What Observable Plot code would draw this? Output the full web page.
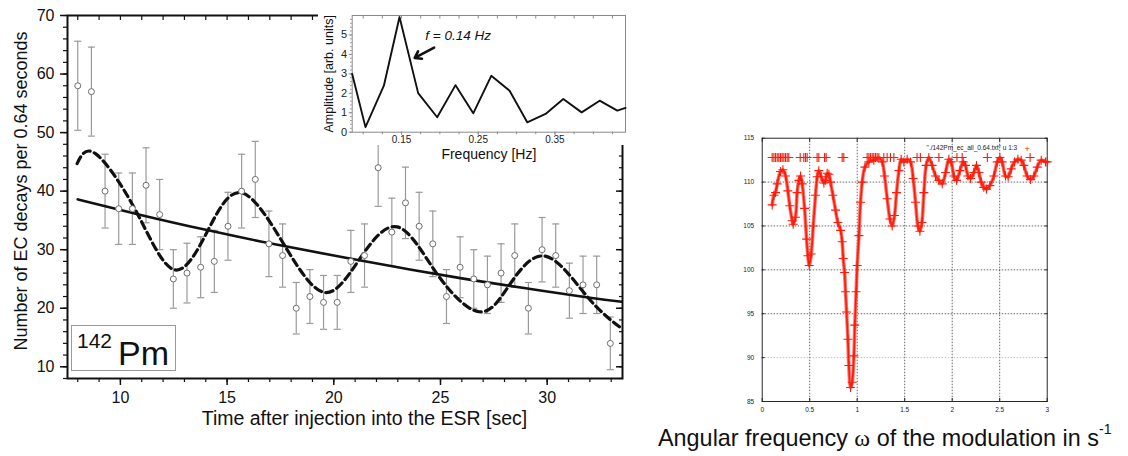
<!DOCTYPE html>
<html>
<head>
<meta charset="utf-8">
<script src="https://cdn.jsdelivr.net/npm/d3@7"></script>
<script src="https://cdn.jsdelivr.net/npm/@observablehq/plot@0.6"></script>
<style>
  html, body { margin: 0; padding: 0; background: #fff; }
  #wrap { position: relative; width: 1128px; height: 456px; overflow: hidden; background: #fff; font-family: "Liberation Sans", Arial, sans-serif; }
  #wrap > svg, #wrap > div { position: absolute; }
  .iso { position: absolute; left: 71px; top: 325px; width: 105px; height: 46px; border: 1px solid #9a9a9a; box-sizing: border-box; }
  .iso span { position: absolute; line-height: 1; color: #111; white-space: nowrap; }
  .caption { left: 658px; top: 425px; font-size: 23.4px; line-height: 1; color: #111; white-space: nowrap; }
  .caption .w { font-family: "Liberation Serif", "DejaVu Serif", serif; font-size: 24px; }
  .caption sup { font-size: 14px; position: relative; top: -3px; }
</style>
</head>
<body>
<div id="wrap"></div>
<script>
// ---------- Main panel: EC decays of 142Pm ----------
const times = [8.00, 8.64, 9.28, 9.92, 10.56, 11.20, 11.84, 12.48, 13.12, 13.76,
  14.40, 15.04, 15.68, 16.32, 16.96, 17.60, 18.24, 18.88, 19.52, 20.16,
  20.80, 21.44, 22.08, 22.72, 23.36, 24.00, 24.64, 25.28, 25.92, 26.56,
  27.20, 27.84, 28.48, 29.12, 29.76, 30.40, 31.04, 31.68, 32.32, 32.96];
const counts = [58, 57, 40, 37, 37, 41, 36, 25, 26, 27,
  28, 34, 40, 42, 31, 29, 20, 22, 21, 21,
  28, 29, 44, 33, 38, 34, 31, 22, 27, 25,
  24, 26, 29, 20, 30, 29, 23, 24, 24, 14];
const errors = [7.6, 7.6, 6.3, 6.1, 6.1, 6.4, 6.0, 5.0, 5.1, 5.2,
  5.3, 5.8, 6.3, 6.5, 5.6, 5.4, 4.4, 4.6, 4.6, 4.6,
  5.3, 5.4, 6.6, 5.8, 6.1, 5.8, 5.6, 4.6, 5.2, 5.0,
  4.9, 5.0, 5.4, 4.4, 5.5, 5.4, 4.7, 4.9, 4.9, 4.5];
// exponential-decay fit (solid)
const fitT = [8, 11, 14, 17, 20, 23, 26, 29, 32, 33.5];
const fitV = [38.6, 35.9, 33.4, 31.1, 29.0, 27.0, 25.1, 23.4, 21.8, 21.1];
// modulated fit (dashed): extrema and mean crossings
const modT = [7.97, 8.83, 10.7, 12.5, 14.1, 15.7, 17.73, 19.56, 21.17, 22.97, 24.85, 26.8, 28.2, 29.9, 31.87, 33.5];
const modV = [44.7, 46.4, 36.8, 26.6, 33.3, 39.7, 30.5, 22.7, 28.2, 33.9, 25.8, 19.4, 23.8, 28.9, 22.0, 16.5];
const xTicksMain = [10, 15, 20, 25, 30];
const yTicksMain = [10, 20, 30, 40, 50, 60, 70];
const xLabelMain = "Time after injection into the ESR [sec]";
const yLabelMain = "Number of EC decays per 0.64 seconds";

// ---------- Inset: Fourier amplitude ----------
const freq = [0.0857, 0.1030, 0.1270, 0.1474, 0.1717, 0.1965, 0.2204, 0.2435, 0.2670,
  0.2909, 0.3139, 0.3378, 0.3609, 0.3848, 0.4083, 0.4313, 0.4420];
const amp = [2.99, 0.26, 2.39, 5.92, 2.01, 0.77, 2.42, 0.97, 2.90,
  2.13, 0.51, 0.94, 1.71, 1.02, 1.62, 1.11, 1.25];
const insetXTicks = [0.15, 0.25, 0.35];
const insetYTicks = [0, 1, 2, 3, 4, 5];
const arrowFreq = [0.1925, 0.1672];
const arrowAmp = [4.35, 3.82];
const noteFreq = 0.181, noteAmp = 4.98;
const noteText = "f = 0.14 Hz";

// ---------- Right panel: scan over angular frequency ----------
const omega = [0.105, 0.123, 0.14, 0.158, 0.193, 0.218, 0.246, 0.27, 0.29, 0.316, 0.326, 0.35, 0.368, 0.386,
  0.404, 0.421, 0.446, 0.467, 0.481, 0.495, 0.516, 0.537, 0.561, 0.579, 0.596, 0.621, 0.649, 0.667,
  0.684, 0.702, 0.719, 0.744, 0.772, 0.796, 0.825, 0.842, 0.853, 0.867, 0.877, 0.888, 0.902, 0.912,
  0.93, 0.947, 0.965, 0.975, 0.989, 1.0, 1.018, 1.035, 1.053, 1.081, 1.123, 1.175, 1.228, 1.263,
  1.288, 1.316, 1.344, 1.368, 1.393, 1.414, 1.439, 1.463, 1.491, 1.526, 1.561, 1.589, 1.614, 1.639,
  1.66, 1.681, 1.702, 1.726, 1.754, 1.789, 1.825, 1.86, 1.895, 1.93, 1.965, 1.989, 2.018, 2.046,
  2.081, 2.116, 2.14, 2.165, 2.193, 2.228, 2.256, 2.281, 2.305, 2.333, 2.361, 2.396, 2.439, 2.474,
  2.502, 2.526, 2.561, 2.589, 2.621, 2.656, 2.691, 2.726, 2.754, 2.789, 2.825, 2.86, 2.895, 2.937,
  2.982, 3.0];
const scanValue = [107.4, 108.5, 108.8, 109.8, 111.2, 111.4, 110.7, 109.0, 107.3, 105.6, 105.2, 106.0, 108.8, 110.2,
  110.7, 109.8, 107.0, 103.5, 101.6, 100.5, 101.8, 105.0, 108.5, 110.6, 111.3, 110.6, 109.9, 110.2,
  111.0, 110.9, 110.0, 108.5, 106.8, 105.4, 104.5, 103.2, 101.3, 99.7, 97.5, 95.2, 92.1, 89.1,
  86.6, 87.2, 90.2, 93.7, 97.5, 100.5, 103.9, 107.7, 110.0, 111.7, 112.3, 112.5, 112.8, 112.3,
  110.7, 108.1, 105.8, 105.0, 106.2, 108.8, 111.3, 112.6, 112.3, 112.6, 112.3, 110.4, 107.7, 105.0,
  104.4, 105.4, 108.8, 111.9, 112.8, 111.9, 110.7, 110.2, 109.8, 111.1, 112.6, 112.3, 110.7, 110.2,
  111.3, 112.3, 111.9, 110.7, 110.4, 111.1, 111.9, 111.1, 110.0, 109.4, 109.2, 109.6, 110.7, 112.3,
  112.8, 112.3, 110.7, 110.6, 111.5, 112.3, 112.6, 112.5, 111.9, 110.7, 110.3, 110.7, 111.7, 112.5,
  112.3, 112.3];
const capOmega = [0.105, 0.123, 0.14, 0.158, 0.175, 0.193, 0.21, 0.228, 0.245, 0.263, 0.28,
  0.40, 0.438, 0.456, 0.473, 0.578, 0.596, 0.656, 0.673, 0.842, 0.859,
  1.105, 1.123, 1.14, 1.158, 1.175, 1.193, 1.21, 1.28, 1.315, 1.35, 1.386,
  1.63, 1.665, 1.86, 2.05, 2.105, 2.37, 2.82];
const capLevel = 112.8;
const xTicksRight = [0, 0.5, 1, 1.5, 2, 2.5, 3];
const yTicksRight = [85, 90, 95, 100, 105, 110, 115];
const legendLabel = "\"./142Pm_ec_all_0.64.txt\" u 1:3";

const FONT = "'Liberation Sans', Arial, Helvetica, sans-serif";
const wrap = document.getElementById("wrap");

// ===== main panel =====
const pts = times.map((t, i) => ({t, n: counts[i], e: errors[i]}));
const fit = fitT.map((t, i) => ({t, v: fitV[i]}));
const mod = modT.map((t, i) => ({t, v: modV[i]}));
const capSym = {draw(ctx, size) { const w = Math.sqrt(size); ctx.moveTo(-w, 0); ctx.lineTo(w, 0); }};

const main = Plot.plot({
  width: 640, height: 430,
  marginLeft: 67, marginRight: 18, marginTop: 15, marginBottom: 52,
  x: {domain: [7.52, 33.53], label: null},
  y: {domain: [8, 70], label: null},
  style: {fontFamily: FONT, fontSize: "16px", color: "#111", background: "transparent"},
  marks: [
    Plot.ruleX(pts, {x: "t", y1: d => d.n - d.e, y2: d => d.n + d.e, stroke: "#9a9a9a", strokeWidth: 1.2}),
    Plot.dot(pts, {x: "t", y: d => d.n + d.e, symbol: capSym, r: 2, fill: "none", stroke: "#9a9a9a", strokeWidth: 1.2}),
    Plot.dot(pts, {x: "t", y: d => d.n - d.e, symbol: capSym, r: 2, fill: "none", stroke: "#9a9a9a", strokeWidth: 1.2}),
    Plot.line(fit, {x: "t", y: "v", curve: "natural", stroke: "#111", strokeWidth: 2.6, clip: true}),
    Plot.line(mod, {x: "t", y: "v", curve: "natural", stroke: "#111", strokeWidth: 3.2, strokeDasharray: "7.5,4.5", clip: true}),
    Plot.dot(pts, {x: "t", y: "n", r: 3, fill: "white", stroke: "#6e6e6e", strokeWidth: 1}),
    Plot.frame({stroke: "#111", strokeWidth: 2}),
    Plot.axisY({ticks: yTicksMain, tickSize: 7, tickPadding: 6, fontSize: 16, strokeWidth: 1.5}),
    Plot.axisY({ticks: d3.range(8, 71, 2), tickSize: 4, strokeWidth: 1.2, tickFormat: () => ""}),
    Plot.axisY({anchor: "right", ticks: yTicksMain, tickSize: -7, strokeWidth: 1.5, tickFormat: () => ""}),
    Plot.axisY({anchor: "right", ticks: d3.range(8, 71, 2), tickSize: -4, strokeWidth: 1.2, tickFormat: () => ""}),
    Plot.axisX({ticks: xTicksMain, tickSize: 7, tickPadding: 6, fontSize: 16, strokeWidth: 1.5}),
    Plot.axisX({ticks: d3.range(8, 34, 1), tickSize: 4, strokeWidth: 1.2, tickFormat: () => ""}),
    Plot.axisX({anchor: "top", ticks: d3.range(8, 34, 1), tickSize: -4, strokeWidth: 1.2, tickFormat: () => ""}),
    Plot.text([xLabelMain], {frameAnchor: "bottom", lineAnchor: "middle", dx: 19.5, dy: 40, fontSize: 19.5, text: d => d}),
    Plot.text([yLabelMain], {frameAnchor: "left", textAnchor: "middle", lineAnchor: "middle", rotate: -90, dx: -46, dy: -6, fontSize: 18, text: d => d})
  ]
});
main.style.left = "0px"; main.style.top = "0px";
wrap.appendChild(main);

const iso = document.createElement("div");
iso.className = "iso";
iso.innerHTML = '<span style="left:5px;top:4px;font-size:21px">142</span><span style="left:46px;top:10px;font-size:34px">Pm</span>';
wrap.appendChild(iso);

// ===== inset =====
const spec = freq.map((f, i) => ({f, a: amp[i]}));
const inset = Plot.plot({
  width: 312, height: 145,
  marginLeft: 33.7, marginRight: 5, marginTop: 15, marginBottom: 13.3,
  x: {domain: [0.0857, 0.442], label: null},
  y: {domain: [0, 6], label: null},
  style: {fontFamily: FONT, fontSize: "11px", color: "#222", background: "white", overflow: "visible"},
  marks: [
    Plot.frame({stroke: "#8a8a8a", strokeWidth: 1}),
    Plot.axisX({ticks: insetXTicks, tickSize: 3, tickPadding: 1, fontSize: 10, stroke: "#8a8a8a", tickFormat: d3.format(".2f")}),
    Plot.axisX({ticks: d3.range(0.1, 0.44, 0.025), tickSize: 2.5, stroke: "#8a8a8a", tickFormat: () => ""}),
    Plot.axisX({anchor: "top", ticks: d3.range(0.1, 0.44, 0.025), tickSize: -2.5, stroke: "#8a8a8a", tickFormat: () => ""}),
    Plot.axisY({ticks: insetYTicks, tickSize: 3, tickPadding: 2, fontSize: 11, stroke: "#8a8a8a", tickFormat: d3.format("d")}),
    Plot.axisY({ticks: d3.range(0, 6, 0.2), tickSize: 1.5, stroke: "#8a8a8a", tickFormat: () => ""}),
    Plot.line(spec, {x: "f", y: "a", stroke: "#111", strokeWidth: 1.9}),
    Plot.arrow([0], {x1: () => arrowFreq[0], y1: () => arrowAmp[0], x2: () => arrowFreq[1], y2: () => arrowAmp[1], stroke: "#111", strokeWidth: 2.6, headLength: 9, headAngle: 70}),
    Plot.text([noteText], {x: () => noteFreq, y: () => noteAmp, text: d => d, textAnchor: "start", fontSize: 13.5, fontStyle: "italic", fill: "#111"}),
    Plot.text(["Frequency [Hz]"], {frameAnchor: "bottom", lineAnchor: "middle", dy: 22, fontSize: 14, fill: "#111", text: d => d}),
    Plot.text(["Amplitude [arb. units]"], {frameAnchor: "left", textAnchor: "middle", lineAnchor: "middle", rotate: -90, dx: -23, fontSize: 12.5, fill: "#111", text: d => d})
  ]
});
inset.style.left = "318px"; inset.style.top = "0px";
wrap.appendChild(inset);

// ===== right panel =====
const scan = omega.map((w, i) => ({w, v: scanValue[i]}));
const RED = "#ff1a0a";
const right = Plot.plot({
  width: 320, height: 290,
  marginLeft: 26.7, marginRight: 8.3, marginTop: 12.7, marginBottom: 14,
  x: {domain: [0, 3], label: null},
  y: {domain: [85, 115], label: null},
  style: {fontFamily: FONT, fontSize: "6.5px", color: "#222", background: "transparent", overflow: "visible"},
  marks: [
    Plot.gridX({ticks: [0.5, 1, 1.5, 2, 2.5], stroke: "#000", strokeOpacity: 0.6, strokeDasharray: "1.5,1.5"}),
    Plot.gridY({ticks: [95, 100, 105, 110], stroke: "#000", strokeOpacity: 0.6, strokeDasharray: "1.5,1.5"}),
    Plot.gridY({ticks: [90], stroke: "#999", strokeOpacity: 0.6, strokeDasharray: "1.5,1.5"}),
    Plot.frame({stroke: "#111", strokeWidth: 0.9}),
    Plot.axisX({ticks: xTicksRight, tickSize: 0, tickPadding: 6, fontSize: 6.5, tickFormat: d => String(d)}),
    Plot.axisX({ticks: xTicksRight, tickSize: -3, tickFormat: () => ""}),
    Plot.axisX({anchor: "top", ticks: xTicksRight, tickSize: -3, tickFormat: () => ""}),
    Plot.axisY({ticks: yTicksRight, tickSize: 0, tickPadding: 8, fontSize: 6.5}),
    Plot.axisY({ticks: yTicksRight, tickSize: -3, tickFormat: () => ""}),
    Plot.axisY({anchor: "right", ticks: yTicksRight, tickSize: -3, tickFormat: () => ""}),
    Plot.line(scan, {x: "w", y: "v", curve: "catmull-rom", stroke: "#ff3a2a", strokeWidth: 3.6, strokeOpacity: 0.7}),
    Plot.line(scan, {x: "w", y: "v", curve: "catmull-rom", stroke: RED, strokeWidth: 1.6}),
    Plot.dot(scan, {x: "w", y: "v", symbol: "plus", r: 3, stroke: RED, strokeWidth: 1.1}),
    Plot.dot(capOmega, {x: d => d, y: () => capLevel, symbol: "plus", r: 3, stroke: RED, strokeWidth: 1.1}),
    Plot.text([legendLabel], {frameAnchor: "top-right", dx: -30, dy: 7, textAnchor: "end", fontSize: 6.5, fill: "#222", text: d => d}),
    Plot.text(["+"], {frameAnchor: "top-right", dx: -17.4, dy: 7, fontSize: 9, fill: RED, text: d => d})
  ]
});
right.style.left = "735px"; right.style.top = "125px";
wrap.appendChild(right);

const cap = document.createElement("div");
cap.className = "caption";
cap.innerHTML = 'Angular frequency <span class="w">ω</span> of the modulation in s<sup>-1</sup>';
wrap.appendChild(cap);
</script>
</body>
</html>
